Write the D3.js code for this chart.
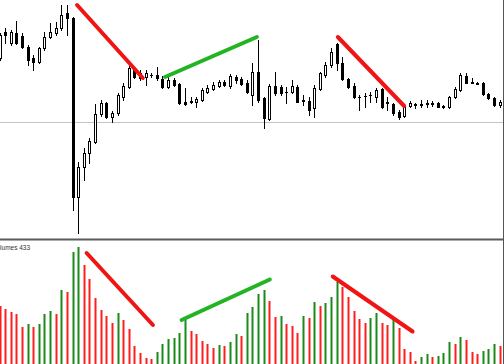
<!DOCTYPE html>
<html>
<head>
<meta charset="utf-8">
<script src="https://cdn.jsdelivr.net/npm/d3@7"></script>
<style>
  html, body { margin: 0; padding: 0; background: #fff; }
  svg { display: block; }
</style>
</head>
<body>
<svg id="chart"></svg>
<script>
const width = 504;
const height = 364;
const mainBottom = 238;

// bar numbers run from -1 (half cut off at the left edge) to 88
const opens = [1.3064, 1.3090, 1.3079, 1.3089, 1.3086, 1.3075, 1.3064, 1.3060, 1.3074, 1.3085,
  1.3089, 1.3094, 1.3109, 1.3104, 1.2925, 1.2955, 1.2969, 1.2980, 1.3008, 1.3019,
  1.3005, 1.3009, 1.3025, 1.3035, 1.3052, 1.3049, 1.3045, 1.3047, 1.3047, 1.3043,
  1.3035, 1.3042, 1.3038, 1.3020, 1.3021, 1.3020, 1.3022, 1.3030, 1.3033, 1.3036,
  1.3040, 1.3036, 1.3045, 1.3043, 1.3039, 1.3027, 1.3050, 1.3024, 1.3003, 1.3036,
  1.3035, 1.3030, 1.3030, 1.3035, 1.3022, 1.3021, 1.3014, 1.3033, 1.3047, 1.3057,
  1.3078, 1.3059, 1.3043, 1.3036, 1.3025, 1.3026, 1.3027, 1.3025, 1.3033, 1.30205,
  1.3018, 1.3010, 1.3006, 1.3016, 1.3018, 1.3018, 1.3019, 1.3019, 1.3019, 1.3016,
  1.3015, 1.3025, 1.3032, 1.3046, 1.3040, 1.3039, 1.3039, 1.3028, 1.3024, 1.3017];

const highs = [1.3089, 1.3094, 1.3092, 1.3101, 1.3089, 1.3077, 1.3067, 1.3075, 1.3090, 1.3099,
  1.3100, 1.3117, 1.3117, 1.3105, 1.2960, 1.2974, 1.2984, 1.3018, 1.3022, 1.3020,
  1.3011, 1.3029, 1.3039, 1.3056, 1.3054, 1.3052, 1.3052, 1.3049, 1.3055, 1.3046,
  1.3045, 1.3044, 1.3039, 1.3034, 1.3025, 1.3025, 1.3034, 1.3037, 1.3040, 1.3042,
  1.3042, 1.3048, 1.3047, 1.3045, 1.3042, 1.3059, 1.3082, 1.3025, 1.3038, 1.3050,
  1.3037, 1.3035, 1.3042, 1.3037, 1.3027, 1.3025, 1.3037, 1.3050, 1.3060, 1.3074,
  1.3079, 1.3065, 1.3044, 1.3039, 1.3027, 1.3029, 1.3030, 1.3034, 1.3034, 1.3025,
  1.3019, 1.3012, 1.3017, 1.3021, 1.30195, 1.3022, 1.3022, 1.3021, 1.3020, 1.3017,
  1.3026, 1.3035, 1.3049, 1.3049, 1.3044, 1.3040, 1.3040, 1.3029, 1.3025, 1.3022];

const lows = [1.3062, 1.3079, 1.3077, 1.3078, 1.3074, 1.3057, 1.3052, 1.3059, 1.3072, 1.3084,
  1.3087, 1.3092, 1.3087, 1.2912, 1.2889, 1.2942, 1.2959, 1.2979, 1.3006, 1.3004,
  1.3000, 1.3007, 1.3022, 1.3034, 1.3044, 1.3042, 1.3037, 1.3045, 1.3042, 1.3034,
  1.3034, 1.3036, 1.3018, 1.3017, 1.3019, 1.3015, 1.3021, 1.3029, 1.3032, 1.3035,
  1.3036, 1.3034, 1.3039, 1.3037, 1.3029, 1.3017, 1.3020, 1.2994, 1.3002, 1.3027,
  1.3027, 1.3019, 1.3029, 1.3020, 1.3017, 1.3007, 1.3005, 1.3032, 1.3045, 1.3055,
  1.3052, 1.3042, 1.3034, 1.3024, 1.3012, 1.3015, 1.3020, 1.3020, 1.3014, 1.3012,
  1.3007, 1.3003, 1.3005, 1.3015, 1.3014, 1.3015, 1.3015, 1.3016, 1.3015, 1.3014,
  1.3014, 1.3024, 1.3031, 1.3039, 1.3039, 1.3038, 1.3027, 1.3023, 1.3016, 1.3015];

const closes = [1.3087, 1.3087, 1.3090, 1.3079, 1.3075, 1.3062, 1.3060, 1.3074, 1.3085, 1.3090,
  1.3094, 1.3107, 1.3104, 1.2925, 1.2955, 1.2969, 1.2981, 1.3008, 1.3019, 1.3005,
  1.3009, 1.3027, 1.3036, 1.3054, 1.3045, 1.3044, 1.3049, 1.30465, 1.3044, 1.3035,
  1.3042, 1.3037, 1.3019, 1.3018, 1.30205, 1.3023, 1.3032, 1.3034, 1.3037, 1.3040,
  1.3037, 1.3046, 1.3042, 1.3038, 1.3030, 1.3050, 1.3022, 1.3004, 1.3036, 1.3029,
  1.3029, 1.30295, 1.3036, 1.30205, 1.30215, 1.3012, 1.3034, 1.3049, 1.3057, 1.3070,
  1.3059, 1.3043, 1.3035, 1.3025, 1.30245, 1.30255, 1.30265, 1.3032, 1.3015, 1.30195,
  1.3009, 1.3005, 1.3016, 1.3019, 1.30175, 1.30175, 1.30185, 1.30185, 1.30155, 1.30155,
  1.3025, 1.3033, 1.3047, 1.30395, 1.30395, 1.30385, 1.3028, 1.3024, 1.3017, 1.3020];

const volumes = [1200, 1140, 1080, 1040, 780, 840, 780, 840, 1040, 1100,
  1040, 1520, 1480, 2280, 2380, 2020, 1740, 1360, 1120, 1000,
  860, 1060, 920, 740, 400, 260, 160, 140, 280, 440,
  540, 560, 660, 920, 700, 640, 500, 440, 360, 420,
  400, 480, 640, 600, 1060, 1180, 1440, 1520, 1300, 980,
  1000, 840, 800, 660, 1000, 960, 1280, 1200, 1260, 1380,
  1680, 1580, 1380, 1100, 940, 860, 960, 1060, 860, 820,
  920, 760, 340, 280, 100, 180, 240, 180, 200, 260,
  480, 440, 580, 520, 280, 240, 300, 340, 440, 400];

const levelPrice = 1.3000;
const priceTicks = [1.3100, 1.3075, 1.3050, 1.3025, 1.3000, 1.2975, 1.2950, 1.2925, 1.2900];

// hand drawn trend lines: [bar, price] pairs and [bar, volume] pairs
const priceLines = [
  { color: '#f01414', from: [12.8, 1.3117], to: [24.5, 1.3044] },
  { color: '#22b422', from: [28.45, 1.3045], to: [44.8, 1.3085] },
  { color: '#f01414', from: [59.2, 1.3085], to: [71.0, 1.3016] }
];
const volumeLines = [
  { color: '#f01414', from: [14.5, 2260], to: [26.3, 820] },
  { color: '#22b422', from: [31.4, 920], to: [47.1, 1730] },
  { color: '#f01414', from: [58.3, 1790], to: [72.5, 690] }
];

const bars = opens.map((o, k) => ({
  i: k - 1, open: o, high: highs[k], low: lows[k], close: closes[k],
  volume: volumes[k], rising: k > 0 && volumes[k] > volumes[k - 1]
}));

const svg = d3.select('#chart')
  .attr('width', width)
  .attr('height', height);

svg.append('rect').attr('width', width).attr('height', height).attr('fill', '#fff');

const x = d3.scaleLinear().domain([-1, 88]).range([-0.5, 499.7]);
const y = d3.scaleLinear().domain([1.3122, 1.2884]).range([0, mainBottom]);
const yVol = d3.scaleLinear().domain([0, 2400]).range([366, 246]);

svg.append('clipPath').attr('id', 'main-clip')
  .append('rect').attr('width', width).attr('height', mainBottom);
const main = svg.append('g').attr('clip-path', 'url(#main-clip)');

// price level line
main.append('line')
  .attr('x1', 0).attr('x2', width)
  .attr('y1', Math.round(y(levelPrice)) + 0.5).attr('y2', Math.round(y(levelPrice)) + 0.5)
  .attr('stroke', '#c4c4c4').attr('stroke-width', 1);

const candles = main.selectAll('g.candle').data(bars).enter()
  .append('g').attr('class', 'candle');

candles.append('line')
  .attr('x1', d => Math.round(x(d.i)) + 0.5)
  .attr('x2', d => Math.round(x(d.i)) + 0.5)
  .attr('y1', d => Math.round(y(d.high)))
  .attr('y2', d => Math.round(y(d.low)) + 1)
  .attr('stroke', '#000').attr('stroke-width', 1);

candles.each(function(d) {
  const g = d3.select(this);
  const top = Math.round(y(Math.max(d.open, d.close)));
  const bottom = Math.round(y(Math.min(d.open, d.close)));
  const bx = Math.round(x(d.i)) - 1;
  if (bottom - top < 1) {
    g.append('rect').attr('x', bx).attr('y', top).attr('width', 3).attr('height', 1).attr('fill', '#000');
  } else {
    g.append('rect')
      .attr('x', bx + 0.5).attr('y', top + 0.5)
      .attr('width', 2).attr('height', bottom - top)
      .attr('fill', d.close < d.open ? '#000' : '#fff')
      .attr('stroke', '#000').attr('stroke-width', 1);
  }
});

main.selectAll('line.trend').data(priceLines).enter()
  .append('line').attr('class', 'trend')
  .attr('x1', d => x(d.from[0])).attr('y1', d => y(d.from[1]))
  .attr('x2', d => x(d.to[0])).attr('y2', d => y(d.to[1]))
  .attr('stroke', d => d.color).attr('stroke-width', 4).attr('stroke-linecap', 'round');

// volume panel
svg.selectAll('rect.vol').data(bars).enter()
  .append('rect').attr('class', 'vol')
  .attr('x', d => Math.round(x(d.i)) - 0.5)
  .attr('width', 2)
  .attr('y', d => yVol(d.volume))
  .attr('height', d => yVol(0) - yVol(d.volume))
  .attr('fill', d => d.rising ? '#1a8a1a' : '#ff1e1e');

svg.selectAll('line.vtrend').data(volumeLines).enter()
  .append('line').attr('class', 'vtrend')
  .attr('x1', d => x(d.from[0])).attr('y1', d => yVol(d.from[1]))
  .attr('x2', d => x(d.to[0])).attr('y2', d => yVol(d.to[1]))
  .attr('stroke', d => d.color).attr('stroke-width', 4).attr('stroke-linecap', 'round');

svg.append('text')
  .attr('x', -7.5).attr('y', 250)
  .attr('font-family', 'Liberation Sans, Arial, sans-serif')
  .attr('font-size', 6.5)
  .attr('fill', '#333')
  .text('Volumes 433');

// panel separator and right price axis
svg.append('rect').attr('x', 0).attr('y', 238.5).attr('width', width).attr('height', 2).attr('fill', '#5a5a5a');

const yAxis = svg.append('g').attr('transform', 'translate(503,0)')
  .call(d3.axisRight(y).tickValues(priceTicks).tickSize(3).tickFormat(''));
yAxis.select('.domain').remove();
yAxis.selectAll('line').attr('stroke', '#555');
svg.append('line').attr('x1', 503.5).attr('x2', 503.5).attr('y1', 0).attr('y2', height)
  .attr('stroke', '#555').attr('stroke-width', 1);
</script>
</body>
</html>
